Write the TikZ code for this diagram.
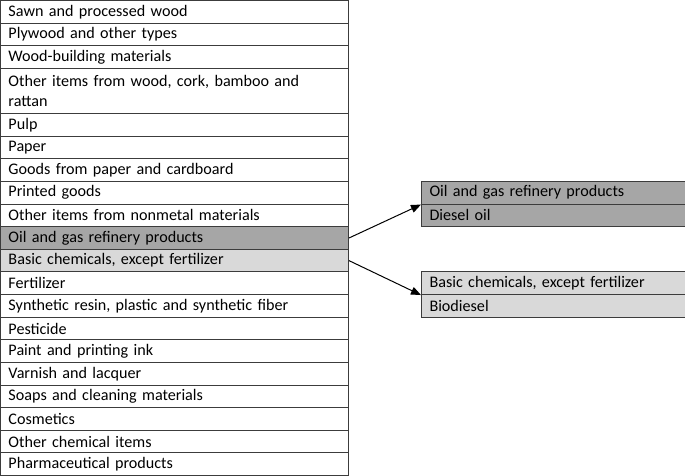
\documentclass[tikz,border=0pt]{standalone}
\usepackage{fontspec}
\setmainfont{Carlito}
\usetikzlibrary{arrows.meta}
\definecolor{darkfill}{RGB}{166,166,166}
\definecolor{lightfill}{RGB}{217,217,217}
\definecolor{gridline}{RGB}{60,60,60}
\begin{document}
\begin{tikzpicture}[x=0.75pt,y=-0.75pt,
  cell/.style={draw=gridline, line width=0.75pt, rectangle, anchor=north west,
    inner xsep=6pt, inner ysep=0pt, text width=249pt, align=left,
    minimum height=16.96pt, font=\fontsize{12.1}{15}\selectfont},
  rcell/.style={cell, text width=186pt},
  dbl/.style={minimum height=33.93pt},
  dark/.style={fill=darkfill},
  light/.style={fill=lightfill},
  link/.style={draw=black, line width=0.75pt, -{Triangle[length=7.5pt,width=6pt]}}
]
\useasboundingbox (0,0) rectangle (685,475);
\def\u{22.619}
\node[cell] (a1) at (0,{0*\u}) {Sawn and processed wood};
\node[cell] (a2) at (0,{1*\u}) {Plywood and other types};
\node[cell] (a3) at (0,{2*\u}) {Wood-building materials};
\node[cell,dbl] (a4) at (0,{3*\u}) {Other items from wood, cork, bamboo and\\rattan};
\node[cell] (a5) at (0,{5*\u}) {Pulp};
\node[cell] (a6) at (0,{6*\u}) {Paper};
\node[cell] (a7) at (0,{7*\u}) {Goods from paper and cardboard};
\node[cell] (a8) at (0,{8*\u}) {Printed goods};
\node[cell] (a9) at (0,{9*\u}) {Other items from nonmetal materials};
\node[cell,dark] (oil) at (0,{10*\u}) {Oil and gas refinery products};
\node[cell,light] (basic) at (0,{11*\u}) {Basic chemicals, except fertilizer};
\node[cell] (a12) at (0,{12*\u}) {Fertilizer};
\node[cell] (a13) at (0,{13*\u}) {Synthetic resin, plastic and synthetic fiber};
\node[cell] (a14) at (0,{14*\u}) {Pesticide};
\node[cell] (a15) at (0,{15*\u}) {Paint and printing ink};
\node[cell] (a16) at (0,{16*\u}) {Varnish and lacquer};
\node[cell] (a17) at (0,{17*\u}) {Soaps and cleaning materials};
\node[cell] (a18) at (0,{18*\u}) {Cosmetics};
\node[cell] (a19) at (0,{19*\u}) {Other chemical items};
\node[cell] (a20) at (0,{20*\u}) {Pharmaceutical products};

\node[rcell,dark] (r1a) at (421,{8*\u}) {Oil and gas refinery products};
\node[rcell,dark] (r1b) at (421,{9*\u}) {Diesel oil};
\node[rcell,light] (r2a) at (421,{12*\u}) {Basic chemicals, except fertilizer};
\node[rcell,light] (r2b) at (421,{13*\u}) {Biodiesel};

\draw[link] (oil.east) -- (r1a.south west);
\draw[link] (basic.east) -- (r2a.south west);
\end{tikzpicture}
\end{document}
